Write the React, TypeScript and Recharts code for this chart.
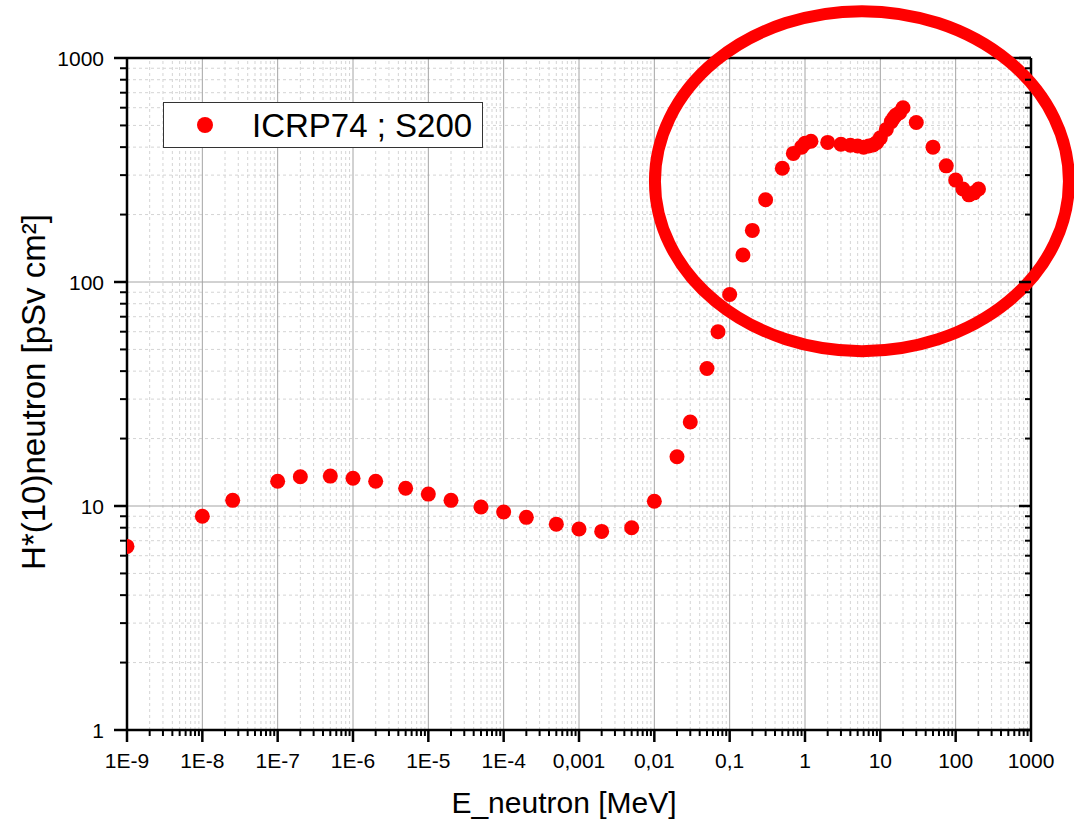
import React from 'react';
import { ScatterChart, Scatter, XAxis, YAxis, ReferenceLine, ReferenceDot } from 'recharts';

// ---- data (ICRP74 ; S200) ----
const energyMeV = [
  1e-9, 1e-8, 2.53e-8, 1e-7, 2e-7, 5e-7, 1e-6, 2e-6, 5e-6, 1e-5, 2e-5, 5e-5,
  1e-4, 2e-4, 5e-4, 1e-3, 2e-3, 5e-3, 0.01, 0.02, 0.03, 0.05, 0.07, 0.1, 0.15,
  0.2, 0.3, 0.5, 0.7, 0.9, 1, 1.2, 2, 3, 4, 5, 6, 7, 8, 9, 10, 12, 14, 15, 16,
  18, 20, 30, 50, 75, 100, 125, 150, 175, 201,
];
const hStar10 = [
  6.6, 9.0, 10.6, 12.9, 13.5, 13.6, 13.3, 12.9, 12.0, 11.3, 10.6, 9.9,
  9.4, 8.9, 8.3, 7.9, 7.7, 8.0, 10.5, 16.6, 23.7, 41.1, 60, 88, 132,
  170, 233, 322, 375, 400, 416, 425, 420, 412, 408, 405, 400, 405, 409, 420, 440, 480, 520, 540, 555,
  570, 600, 515, 400, 330, 285, 260, 245, 250, 260,
];

const xMajorTicks = [1e-9, 1e-8, 1e-7, 1e-6, 1e-5, 1e-4, 1e-3, 1e-2, 1e-1, 1, 10, 100, 1000];
const xTickLabels = ['1E-9', '1E-8', '1E-7', '1E-6', '1E-5', '1E-4', '0,001', '0,01', '0,1', '1', '10', '100', '1000'];
const yMajorTicks = [1, 10, 100, 1000];
const yTickLabels = ['1', '10', '100', '1000'];
const minorMultipliers = [2, 3, 4, 5, 6, 7, 8, 9];

const seriesName = 'ICRP74 ; S200';
const xTitle = 'E_neutron [MeV]';
const yTitle = 'H*(10)neutron [pSv cm²]';

// annotation ellipse (data-space centre)
const ellipseCenter = { x: 5.7, y: 282 };

const data = energyMeV.map((e, i) => ({ e, h: hStar10[i] }));
const xMinorTicks = xMajorTicks.slice(0, -1).flatMap((d) => minorMultipliers.map((m) => m * d));
const yMinorTicks = yMajorTicks.slice(0, -1).flatMap((d) => minorMultipliers.map((m) => m * d));
const xAllTicks = [...xMajorTicks, ...xMinorTicks].sort((a, b) => a - b);
const yAllTicks = [...yMajorTicks, ...yMinorTicks].sort((a, b) => a - b);

const FONT = '"Liberation Sans", Arial, Helvetica, sans-serif';
const RED = '#ff0000';

const majorIndex = (list: number[], v: number) =>
  list.findIndex((t) => Math.abs(t - v) / t < 1e-9);

const BottomTick = (props: any) => {
  const { x, y, payload } = props;
  const idx = majorIndex(xMajorTicks, payload.value);
  const major = idx >= 0;
  return (
    <g>
      <line x1={x} x2={x} y1={y} y2={y + (major ? 12 : 6)} stroke="#000" strokeWidth={major ? 2.5 : 2} />
      {major && (
        <text x={x} y={y + 38} textAnchor="middle" fontSize={21} fontFamily={FONT} fill="#000">
          {xTickLabels[idx]}
        </text>
      )}
    </g>
  );
};

const TopTick = (props: any) => {
  const { x, y, payload } = props;
  const major = majorIndex(xMajorTicks, payload.value) >= 0;
  return <line x1={x} x2={x} y1={y} y2={y + (major ? 12 : 6)} stroke="#000" strokeWidth={major ? 2.5 : 2} />;
};

const LeftTick = (props: any) => {
  const { x, y, payload } = props;
  const idx = majorIndex(yMajorTicks, payload.value);
  const major = idx >= 0;
  return (
    <g>
      <line x1={x - (major ? 13 : 7)} x2={x} y1={y} y2={y} stroke="#000" strokeWidth={major ? 2.5 : 2} />
      {major && (
        <text x={x - 23} y={y} dy="0.36em" textAnchor="end" fontSize={21} fontFamily={FONT} fill="#000">
          {yTickLabels[idx]}
        </text>
      )}
    </g>
  );
};

const RightTick = (props: any) => {
  const { x, y, payload } = props;
  const major = majorIndex(yMajorTicks, payload.value) >= 0;
  return <line x1={x - (major ? 12 : 6)} x2={x} y1={y} y2={y} stroke="#000" strokeWidth={major ? 2.5 : 2} />;
};

const XTitle = () => (
  <text x={564} y={813} textAnchor="middle" fontSize={30} fontFamily={FONT} fill="#000">
    {xTitle}
  </text>
);

const YTitle = () => (
  <text x={45} y={392} transform="rotate(-90 45 392)" textAnchor="middle" fontSize={33} fontFamily={FONT} fill="#000">
    {yTitle}
  </text>
);

const Dot = (props: any) => {
  const { cx, cy } = props;
  if (cx == null || cy == null) return null;
  return <circle cx={cx} cy={cy} r={7.5} fill={RED} />;
};

const EllipseShape = (props: any) => (
  <ellipse cx={props.cx} cy={props.cy} rx={207} ry={170} fill="none" stroke={RED} strokeWidth={12} />
);

export default function App() {
  return (
    <div style={{ position: 'absolute', left: 0, top: 0, width: 1074, height: 829, background: '#fff' }}>
      <ScatterChart width={1074} height={829} margin={{ top: 57, right: 42, bottom: 0, left: 0 }}>
        <XAxis
          dataKey="e"
          type="number"
          scale="log"
          domain={[1e-9, 1000]}
          allowDataOverflow
          ticks={xAllTicks}
          interval={0}
          tickSize={0}
          tickMargin={0}
          tickLine={false}
          tick={(p: any) => <BottomTick {...p} />}
          axisLine={{ stroke: '#000', strokeWidth: 2.5 }}
          height={99}
          label={<XTitle />}
        />
        <XAxis
          xAxisId="top"
          orientation="top"
          type="number"
          scale="log"
          domain={[1e-9, 1000]}
          allowDataOverflow
          ticks={xAllTicks}
          interval={0}
          tickSize={0}
          tickMargin={0}
          tickLine={false}
          tick={(p: any) => <TopTick {...p} />}
          axisLine={{ stroke: '#000', strokeWidth: 2.5 }}
          height={1}
        />
        <YAxis
          dataKey="h"
          type="number"
          scale="log"
          domain={[1, 1000]}
          allowDataOverflow
          ticks={yAllTicks}
          interval={0}
          tickSize={0}
          tickMargin={0}
          tickLine={false}
          tick={(p: any) => <LeftTick {...p} />}
          axisLine={{ stroke: '#000', strokeWidth: 2.5 }}
          width={127}
          label={<YTitle />}
        />
        <YAxis
          yAxisId="right"
          orientation="right"
          type="number"
          scale="log"
          domain={[1, 1000]}
          allowDataOverflow
          ticks={yAllTicks}
          interval={0}
          tickSize={0}
          tickMargin={0}
          tickLine={false}
          tick={(p: any) => <RightTick {...p} />}
          axisLine={{ stroke: '#000', strokeWidth: 2.5 }}
          width={1}
        />
        {xMinorTicks.map((v) => (
          <ReferenceLine key={'xm' + v} x={v} stroke="#d4d4d4" strokeWidth={1} strokeDasharray="3 3" />
        ))}
        {yMinorTicks.map((v) => (
          <ReferenceLine key={'ym' + v} y={v} stroke="#d4d4d4" strokeWidth={1} strokeDasharray="3 3" />
        ))}
        {xMajorTicks.slice(1, -1).map((v) => (
          <ReferenceLine key={'xM' + v} x={v} stroke="#a4a4a4" strokeWidth={1} />
        ))}
        {yMajorTicks.slice(1, -1).map((v) => (
          <ReferenceLine key={'yM' + v} y={v} stroke="#a4a4a4" strokeWidth={1} />
        ))}
        <Scatter name={seriesName} data={data} fill={RED} shape={<Dot />} isAnimationActive={false} />
        <ReferenceDot x={ellipseCenter.x} y={ellipseCenter.y} ifOverflow="visible" shape={<EllipseShape />} />
      </ScatterChart>
      <div
        style={{
          position: 'absolute',
          left: 163,
          top: 102,
          width: 320,
          height: 46,
          boxSizing: 'border-box',
          border: '1px solid #333',
          background: '#fff',
        }}
      >
        <svg width={318} height={44} style={{ display: 'block' }}>
          <circle cx={41} cy={22} r={8} fill={RED} />
          <text x={88} y={34} fontSize={33} fontFamily={FONT} fill="#000">
            {seriesName}
          </text>
        </svg>
      </div>
    </div>
  );
}
